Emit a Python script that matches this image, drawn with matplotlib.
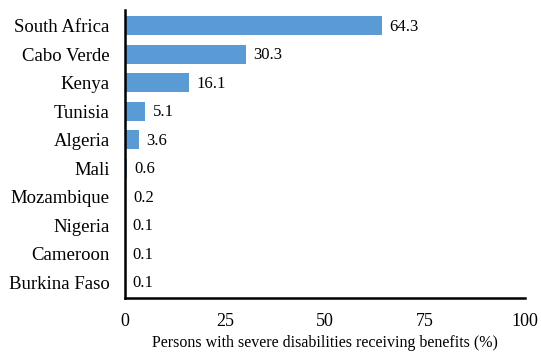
import matplotlib.pyplot as plt

countries = ["South Africa", "Cabo Verde", "Kenya", "Tunisia", "Algeria",
             "Mali", "Mozambique", "Nigeria", "Cameroon", "Burkina Faso"]
values = [64.3, 30.3, 16.1, 5.1, 3.6, 0.6, 0.2, 0.1, 0.1, 0.1]
xticks = [0, 25, 50, 75, 100]

plt.rcParams["font.family"] = "Liberation Serif"

fig = plt.figure(figsize=(5.41, 3.54), dpi=100)
ax = fig.add_axes([0.231, 0.158, 0.739, 0.814])

pos = list(range(len(countries)))
ax.barh(pos, values, height=0.67, color="#5B9BD5")
for p, v in zip(pos, values):
    ax.text(v + 1.8, p + 0.04, f"{v}", va="center", ha="left", fontsize=12)

ax.set_ylim(9.56, -0.56)
ax.set_xlim(0, 100)
ax.set_yticks(pos)
ax.set_yticklabels(countries, fontsize=13.5)
ax.set_xticks(xticks)
ax.set_xticklabels([str(t) for t in xticks], fontsize=13)
ax.tick_params(length=0)
ax.tick_params(axis="x", pad=11)
ax.tick_params(axis="y", pad=11)
ax.set_xlabel("Persons with severe disabilities receiving benefits (%)", fontsize=11.5, labelpad=3)

for s in ["top", "right"]:
    ax.spines[s].set_visible(False)
for s in ["left", "bottom"]:
    ax.spines[s].set_linewidth(1.8)

fig.savefig("out.png", dpi=100)
